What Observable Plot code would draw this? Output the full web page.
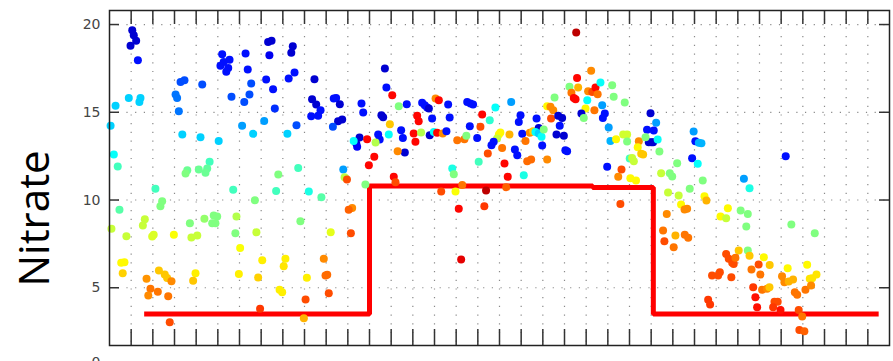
<!DOCTYPE html>
<html><head><meta charset="utf-8">
<script src="https://cdn.jsdelivr.net/npm/d3@7"></script>
<script src="https://cdn.jsdelivr.net/npm/@observablehq/plot@0.6"></script>
<style>body{margin:0;background:#fff;} #chart svg{display:block;}</style>
</head><body><div id="chart"></div>
<script>
// sample index (x, months), nitrate value (y), colour value 0..1 on a jet scale (c)
const sampleX = [
1.05,1.12,1.23,0.97,1.31,0.28,0.05,0.20,0.38,0.89,1.43,1.38,3.28,3.46,3.05,3.12,3.20,3.36,4.28,4.20,
5.04,5.20,5.27,5.12,5.54,5.48,5.39,5.63,6.28,6.38,6.54,6.46,6.22,6.12,6.63,7.32,7.48,7.38,7.23,7.55,
7.63,7.14,8.21,8.46,8.39,8.54,8.27,9.46,9.35,9.54,9.74,9.31,9.63,8.63,10.35,10.46,10.63,10.55,10.74,10.31,
11.63,11.71,11.54,11.39,11.43,11.27,10.79,8.71,7.79,4.62,4.51,4.43,4.12,3.59,3.51,11.89,11.97,10.85,10.96,2.12,
5.71,7.69,9.20,9.78,6.71,0.46,2.43,2.35,1.63,1.54,0.09,0.78,2.04,1.97,2.97,3.71,4.38,4.81,4.97,4.74,
4.89,3.78,4.05,5.86,5.81,6.78,6.03,8.81,10.21,11.81,11.20,11.04,11.14,0.54,0.69,0.61,1.71,2.28,2.55,2.66,
2.86,1.89,1.79,2.23,2.71,2.78,3.97,3.86,5.97,7.05,6.86,8.12,8.04,7.85,7.97,9.11,9.89,10.05,9.97,10.12,
9.05,6.95,8.97,
21.54,12.71,12.78,13.05,13.35,13.72,12.55,12.63,12.94,12.89,12.40,12.47,12.28,12.22,13.46,13.54,13.63,13.30,13.12,13.20,
14.43,14.55,14.66,14.74,14.20,14.27,14.89,14.04,14.12,14.38,14.78,15.05,15.20,15.63,15.70,14.97,15.12,15.38,15.55,15.82,
15.89,16.05,16.38,16.47,16.63,16.97,17.12,17.20,16.51,16.66,16.78,17.55,17.81,17.46,17.04,17.97,18.04,17.89,17.73,17.63,
18.12,18.23,18.38,18.46,18.54,18.97,18.89,19.05,18.71,18.82,19.20,19.40,19.55,19.28,19.46,19.12,19.71,19.81,19.66,19.81,
19.94,20.04,19.97,20.20,20.20,20.35,20.48,20.54,20.38,20.71,20.89,20.78,20.63,20.97,21.04,21.12,21.23,21.32,21.43,21.51,
21.58,21.63,22.23,22.09,22.28,22.43,22.53,22.66,22.05,21.97,21.78,21.89,22.38,22.74,22.86,22.77,23.04,23.12,23.38,23.20,
23.27,23.78,23.71,23.89,22.97,23.63,23.48,24.01,24.04,15.31,15.97,16.28,17.38,18.31,16.12,17.30,16.23,23.58,
24.97,25.23,24.81,25.12,24.89,25.01,25.09,25.30,23.89,24.43,24.74,24.38,24.54,24.63,25.38,24.12,24.20,26.20,25.46,25.86,
25.97,24.30,26.96,27.04,27.20,27.32,26.89,27.15,27.38,26.78,25.78,26.27,27.46,27.55,26.38,26.54,26.66,25.72,25.55,25.61,
26.12,26.55,26.71,26.04,28.54,28.20,28.46,29.13,29.46,29.39,29.28,29.54,31.21,31.47,32.55,28.46,28.58,28.74,28.81,29.04,
29.46,29.54,28.89,28.17,28.09,27.81,28.70,27.63,27.72,29.96,30.04,29.63,30.20,30.47,29.71,29.81,29.89,30.12,30.35,30.46,
30.69,30.84,30.63,30.97,31.04,31.30,31.15,31.35,31.55,31.63,31.74,31.81,31.84,32.07,31.97,32.20,32.12,32.32,32.43,32.63,
32.38
];
const nitrate = [
19.68,19.39,19.07,18.79,17.97,15.37,14.23,12.59,11.91,15.82,15.82,15.59,16.73,16.83,16.01,15.82,15.06,13.73,16.58,13.58,
13.37,18.31,17.87,17.65,17.99,17.53,17.31,15.88,18.35,17.44,16.64,16.01,15.59,14.23,13.77,19.01,19.07,18.25,16.87,16.31,
15.21,14.51,13.77,18.76,18.39,17.26,16.92,16.88,15.74,15.44,15.12,14.77,14.80,14.26,15.78,15.82,15.46,14.49,14.59,14.17,
15.50,14.99,13.56,13.22,13.03,13.37,11.74,11.83,11.45,12.18,11.79,11.55,11.74,11.70,11.51,13.46,11.98,11.30,11.17,10.64,
10.58,10.52,10.48,10.16,9.99,9.44,9.93,9.65,8.91,8.55,8.36,7.94,8.02,7.92,8.02,8.68,8.93,9.12,9.06,8.68,
8.68,7.86,7.98,9.06,8.11,8.16,7.27,8.79,8.16,10.88,9.55,9.44,8.11,6.42,6.46,5.83,5.51,5.98,5.75,5.56,
5.37,4.94,4.56,4.78,4.51,3.03,5.83,5.40,5.79,6.57,5.58,6.65,6.23,4.88,4.75,5.57,6.65,5.74,5.70,4.69,
4.33,3.80,3.26,
19.54,17.49,16.41,15.97,15.34,15.46,14.83,14.72,14.32,13.73,13.73,13.45,13.28,12.46,13.98,13.54,12.71,12.78,11.32,11.01,
15.54,15.40,15.27,15.21,14.80,14.49,14.64,13.79,13.32,13.85,13.69,15.78,15.69,15.44,14.70,13.88,13.83,13.79,13.92,11.79,
11.47,13.41,13.46,13.66,14.21,13.54,14.17,14.87,15.59,15.50,15.44,14.55,15.27,12.65,12.18,13.73,13.85,13.50,13.32,13.12,
12.97,12.08,11.32,13.73,15.59,14.83,14.45,13.77,12.88,12.55,13.37,13.83,13.92,12.21,12.31,11.41,14.64,14.11,13.88,13.79,
13.60,14.02,13.10,12.31,15.34,15.31,15.12,15.84,14.64,14.80,14.68,14.23,13.73,13.66,12.84,12.78,16.45,16.11,15.82,15.74,
16.96,16.41,17.36,16.20,16.16,16.41,16.03,16.69,15.69,15.21,14.93,14.68,15.12,15.40,14.93,14.68,14.13,13.37,13.46,16.54,
15.88,15.56,13.73,13.73,11.89,11.74,11.32,12.36,11.24,10.48,10.48,10.86,10.54,10.73,9.50,9.64,6.61,9.78,
14.94,14.40,14.00,13.96,13.29,13.29,13.29,13.45,13.33,13.35,13.58,13.01,12.63,12.59,12.76,12.40,12.21,12.10,11.53,11.53,
11.34,11.11,13.90,13.35,13.26,13.24,12.38,12.06,11.11,10.64,10.43,10.26,10.22,9.97,9.74,9.46,9.50,9.21,8.26,7.65,
7.98,8.02,7.85,7.31,9.53,9.06,8.96,9.40,9.21,8.49,11.21,10.67,12.49,8.60,8.11,6.93,6.65,6.42,6.36,7.12,
7.12,6.83,6.71,5.88,5.70,5.70,5.60,4.31,4.04,6.32,5.75,6.04,6.74,6.30,5.03,4.46,3.89,4.88,4.94,5.03,
4.21,4.21,3.89,3.74,5.66,6.11,5.31,5.35,5.47,4.75,4.60,3.74,2.60,2.52,3.36,6.31,4.88,5.51,5.54,5.75,
5.13
];
const colourValue = [
.08,.08,.08,.08,.14,.33,.33,.38,.44,.33,.33,.33,.2,.2,.24,.24,.24,.33,.2,.33,
.33,.14,.14,.14,.14,.14,.14,.2,.14,.14,.2,.2,.2,.28,.33,.08,.08,.11,.14,.14,
.17,.28,.33,.08,.08,.14,.14,.08,.08,.08,.14,.14,.14,.2,.14,.14,.08,.08,.08,.2,
.14,.14,.08,.08,.12,.38,.28,.44,.5,.44,.47,.48,.48,.48,.5,.87,.87,.56,.8,.44,
.44,.44,.4,.46,.5,.46,.5,.5,.57,.57,.57,.57,.59,.59,.62,.5,.52,.5,.5,.5,
.5,.57,.57,.55,.5,.57,.62,.5,.6,.5,.74,.78,.8,.63,.63,.67,.73,.68,.68,.68,
.74,.76,.74,.76,.76,.8,.64,.68,.64,.64,.67,.64,.65,.64,.64,.64,.74,.77,.77,.8,
.8,.82,.7,
.94,.08,.14,.87,.5,.14,.08,.08,.68,.38,.14,.14,.55,.87,.14,.14,.08,.74,.87,.8,
.14,.14,.14,.08,.87,.87,.14,.87,.87,.55,.08,.74,.87,.14,.14,.38,.87,.74,.14,.4,
.5,.76,.76,.5,.14,.14,.8,.87,.14,.14,.14,.42,.38,.8,.44,.63,.63,.57,.14,.14,
.76,.87,.87,.7,.28,.14,.14,.14,.14,.14,.76,.74,.68,.77,.77,.4,.14,.08,.38,.33,
.38,.5,.14,.74,.63,.74,.74,.5,.8,.08,.08,.14,.08,.08,.14,.14,.5,.76,.87,.87,
.87,.7,.74,.74,.8,.87,.76,.38,.38,.63,.08,.5,.76,.28,.14,.14,.28,.3,.63,.5,
.5,.5,.58,.58,.14,.8,.74,.44,.63,.8,.62,.76,.94,.78,.87,.82,.9,.8,
.08,.28,.14,.14,.08,.08,.08,.38,.5,.74,.5,.63,.68,.68,.5,.57,.57,.5,.57,.5,
.5,.63,.28,.14,.3,.3,.14,.38,.5,.5,.57,.57,.63,.7,.63,.74,.74,.74,.76,.8,
.7,.76,.76,.76,.63,.63,.57,.5,.5,.5,.28,.4,.14,.5,.5,.8,.8,.8,.8,.68,
.5,.68,.76,.8,.8,.8,.8,.82,.82,.8,.76,.76,.63,.68,.82,.86,.86,.76,.74,.68,
.8,.8,.82,.86,.74,.63,.74,.7,.7,.76,.76,.8,.8,.78,.76,.63,.76,.65,.65,.65,
.74
];
// step threshold line (step-after)
const stepX = [1.6, 12, 22.3, 25.1, 35.5];
const stepY = [3.5, 10.8, 10.72, 3.5, 3.5];
const yTicks = [5, 10, 15, 20];
const xTicks = d3.range(1, 36);
const axisTitle = "Nitrate";
const titleAt = 8.95;     // y value at which the rotated title is centred
const lowerPanelTop = 0.75; // "0" of the panel below, cut by the image edge

const points = sampleX.map((x, i) => ({x, y: nitrate[i], c: colourValue[i]}));
const step = stepX.map((x, i) => ({x, y: stepY[i]}));

function jet(t) {
  const cl = v => Math.max(0, Math.min(1, v));
  const r = cl(1.5 - Math.abs(4 * t - 3));
  const g = cl(1.5 - Math.abs(4 * t - 2));
  const b = cl(1.5 - Math.abs(4 * t - 1));
  return d3.rgb(r * 255, g * 255, b * 255).formatHex();
}

const frameW = 893 - 109 - 4, frameH = 361 - 10 - 16;

const chart = Plot.plot({
  width: 893, height: 361,
  marginLeft: 109, marginTop: 10, marginRight: 4, marginBottom: 16,
  x: {domain: [0, 36], axis: null},
  y: {domain: [1.71, 20.8], axis: null},
  color: {type: "linear", domain: [0, 1], interpolate: jet},
  style: {fontFamily: "DejaVu Sans", background: "#fff", overflow: "visible"},
  marks: [
    Plot.ruleX(xTicks, {x: d => d, stroke: "#8a8a8a", strokeWidth: 1.2, strokeDasharray: "1.2,7.5"}),
    Plot.ruleY(yTicks, {y: d => d, stroke: "#8a8a8a", strokeWidth: 1.2, strokeDasharray: "1.2,7.5"}),
    Plot.ruleX(xTicks, {x: d => d, stroke: "#333", strokeWidth: 1.5, insetBottom: frameH - 14}),
    Plot.ruleX(xTicks, {x: d => d, stroke: "#333", strokeWidth: 1.5, insetTop: frameH - 16}),
    Plot.ruleY(yTicks, {y: d => d, stroke: "#333", strokeWidth: 1.5, insetRight: frameW - 10}),
    Plot.ruleY(yTicks, {y: d => d, stroke: "#333", strokeWidth: 1.5, insetLeft: frameW - 10}),
    Plot.line(step, {x: "x", y: "y", curve: "step-after", stroke: "#ff0000", strokeWidth: 5, strokeLinejoin: "miter", strokeLinecap: "butt"}),
    Plot.dot(points, {x: "x", y: "y", fill: "c", r: 4}),
    Plot.frame({stroke: "#222", strokeWidth: 1.5}),
    Plot.text(yTicks, {y: d => d, text: d => String(d), frameAnchor: "left", dx: -9, textAnchor: "end", fontSize: 14, fill: "#444"}),
    Plot.text([lowerPanelTop], {y: d => d, text: () => "0", frameAnchor: "left", dx: -9, textAnchor: "end", fontSize: 14, fill: "#444"}),
    Plot.text([titleAt], {y: d => d, text: () => axisTitle, frameAnchor: "left", dx: -74, rotate: -90, textAnchor: "middle", fontSize: 42, fontFamily: "Open Sans", fill: "#000"})
  ]
});
document.getElementById("chart").appendChild(chart);
</script>
</body></html>
